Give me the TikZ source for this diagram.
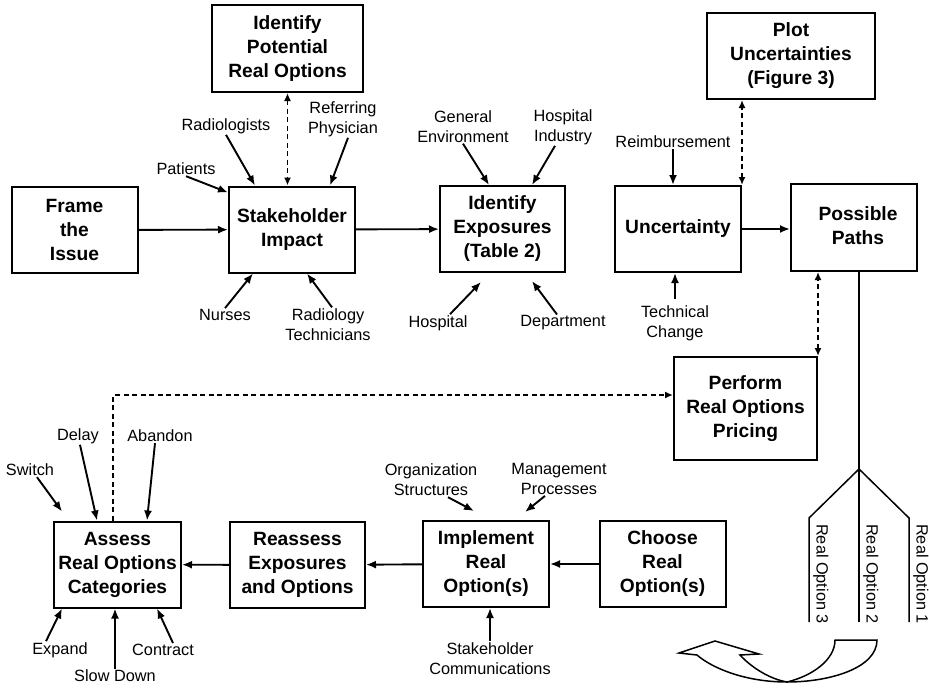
\documentclass[tikz,border=0pt]{standalone}
\usepackage{fontspec}
\setmainfont{Liberation Sans}
\usepackage{tikz}
\usetikzlibrary{arrows.meta,calc,positioning}

\begin{document}
\begin{tikzpicture}[
  x=1pt,y=-1pt,
  every node/.style={inner sep=1pt},
  stepbox/.style={draw,line width=2pt,minimum width=126pt,minimum height=86pt,
    align=center,inner sep=0pt,font=\fontsize{19.2}{24}\selectfont\bfseries},
  tag/.style={align=center,font=\fontsize{16.3}{20}\selectfont},
  flow/.style={line width=1.9pt,-{Latex[length=10pt,width=8pt]}},
  dashline/.style={line width=1.9pt,dash pattern=on 5pt off 3.5pt},
  link/.style={dashline,{Latex[length=8pt,width=7pt]}-{Latex[length=8pt,width=7pt]}},
  branch/.style={line width=1.5pt}
]
\useasboundingbox (0,0) rectangle (929,688);

% process boxes
\node[stepbox] (frame) at (74.5,230) {Frame\\the\\Issue};
\node[stepbox] (stake) at (292,229.5) {Stakeholder\\Impact};
\node[stepbox,minimum width=151pt,minimum height=87pt] (potential) at (287.5,48.5) {Identify\\Potential\\Real Options};
\node[stepbox,minimum width=125pt] (expose) at (502.5,229) {Identify\\Exposures\\(Table 2)};
\node[stepbox] (uncert) at (678,229) {Uncertainty};
\node[stepbox,minimum width=168pt] (plot) at (791,56) {Plot\\Uncertainties\\(Figure 3)};
\node[stepbox,minimum height=87pt] (paths) at (854,227.5) {\hspace{8pt}\raisebox{3pt}{Possible}\\\hspace{8pt}\raisebox{3pt}{Paths}};
\node[stepbox,minimum width=143pt,minimum height=103pt] (pricing) at (745.5,408.5) {Perform\\Real Options\\Pricing};
\node[stepbox] (choose) at (662.5,564) {Choose\\Real\\Option(s)};
\node[stepbox] (implement) at (486,564) {Implement\\Real\\Option(s)};
\node[stepbox,minimum width=135pt] (reassess) at (297.5,565) {Reassess\\Exposures\\and Options};
\node[stepbox,minimum width=127pt] (assess) at (117.5,564.5) {Assess\\Real Options\\Categories};

% influences
\node[tag] (patients) at (186,169) {Patients};
\node[tag] (radiologists) at (226,126) {Radiologists};
\node[tag] (referring) at (343,119) {Referring\\Physician};
\node[tag] (nurses) at (225,315) {Nurses};
\node[tag] (radtech) at (328,324.5) {Radiology\\Technicians};
\node[tag] (general) at (463,126.5) {General\\Environment};
\node[tag] (industry) at (563,127) {Hospital\\Industry};
\node[tag] (hospital) at (438,323) {Hospital};
\node[tag] (department) at (563,323) {Department};
\node[tag] (reimburse) at (673,142) {Reimbursement};
\node[tag] (technical) at (675,323.5) {Technical\\Change};
\node[tag] (switch) at (30,470) {Switch};
\node[tag] (delay) at (78,436) {Delay};
\node[tag] (abandon) at (160,436) {Abandon};
\node[tag] (expand) at (60,650) {Expand};
\node[tag] (slow) at (115,676) {Slow Down};
\node[tag] (contract) at (163,650) {Contract};
\node[tag] (orgstruct) at (431,480) {Organization\\Structures};
\node[tag] (mgmt) at (559,479) {Management\\Processes};
\node[tag] (stakecomm) at (490,658.5) {Stakeholder\\Communications};

\draw[flow] (patients.south) -- ([yshift=-7pt]stake.north west);
\draw[flow] (radiologists.south) -- ([xshift=-37pt]stake.north);
\draw[flow] ([xshift=5pt]referring.south) -- ([xshift=38pt]stake.north);
\draw[link] (potential.south) -- (potential.south |- stake.north);
\draw[flow] (nurses.north) -- ([xshift=-39pt]stake.south);
\draw[flow] ([xshift=4pt]radtech.north) -- ([xshift=15pt]stake.south);
\draw[flow] (frame) -- (stake);
\draw[flow] (stake) -- (expose);
\draw[flow] (general.south) -- ([xshift=-13.5pt]expose.north);
\draw[flow] ([xshift=-8pt]industry.south) -- ([xshift=29.5pt]expose.north);
\draw[flow] ([xshift=12pt]hospital.north) -- ([xshift=-21.5pt,yshift=-9pt]expose.south);
\draw[flow] ([xshift=-6pt]department.north) -- ([xshift=29.5pt,yshift=-8pt]expose.south);
\draw[flow] (reimburse.south) -- (reimburse.south |- uncert.north);
\draw[flow] ([yshift=6pt]technical.north) -- (technical.north |- uncert.south);
\draw[link] (uncert.north east) -- (uncert.north east |- plot.south);
\draw[flow] (uncert) -- (uncert -| paths.west);
\draw[link] (pricing.north east) -- (pricing.north east |- paths.south);

% possible paths
\coordinate (fork) at (859,469);
\draw[branch] (fork |- paths.south) -- (fork);
\draw[branch] (fork) -- ++(-50,49) -- ++(0,104);
\draw[branch] (fork) -- ++(0,153);
\draw[branch] (fork) -- ++(50,49) -- ++(0,104);
\node[tag,rotate=-90,anchor=south west] (opt3) at (812,523) {Real Option 3};
\node[tag,rotate=-90,anchor=south west] (opt2) at (862,523) {Real Option 2};
\node[tag,rotate=-90,anchor=south west] (opt1) at (912,523) {Real Option 1};
\draw[branch] (835,640) -- (877,640) .. controls (877,668) and (830,682) .. (787,682)
  .. controls (745,682) and (712,668) .. (697,655) -- (679,653) -- (715,641)
  -- (759,654) -- (740,655) .. controls (752,668) and (770,679) .. (787,682)
  .. controls (812,676) and (835,660) .. (835,640) -- cycle;

% lower row
\draw[dashline,-{Latex[length=8pt,width=7pt]}] ([xshift=-4.5pt]assess.north) |- ([yshift=13.5pt]pricing.west);
\draw[flow] (choose) -- (implement);
\draw[flow] (implement) -- (reassess);
\draw[flow] (reassess) -- (assess);
\draw[flow] ([xshift=17pt]orgstruct.south) -- ([xshift=-12pt,yshift=9pt]implement.north);
\draw[flow] ([xshift=-14pt]mgmt.south) -- ([xshift=39pt,yshift=8pt]implement.north);
\draw[flow] (stakecomm.north) -- (stakecomm.north |- implement.south);
\draw[flow] ([xshift=7pt]switch.south) -- ([xshift=9pt,yshift=9pt]assess.north west);
\draw[flow] ([xshift=2pt]delay.south) -- ([xshift=-20.5pt]assess.north);
\draw[flow] ([xshift=-5pt]abandon.south) -- ([xshift=29.5pt]assess.north);
\draw[flow] ([xshift=-14pt]expand.north) -- ([xshift=9pt]assess.south west);
\draw[flow] (slow.north) -- (slow.north |- assess.south);
\draw[flow] ([xshift=10pt]contract.north) -- ([xshift=39.5pt]assess.south);
\end{tikzpicture}
\end{document}
